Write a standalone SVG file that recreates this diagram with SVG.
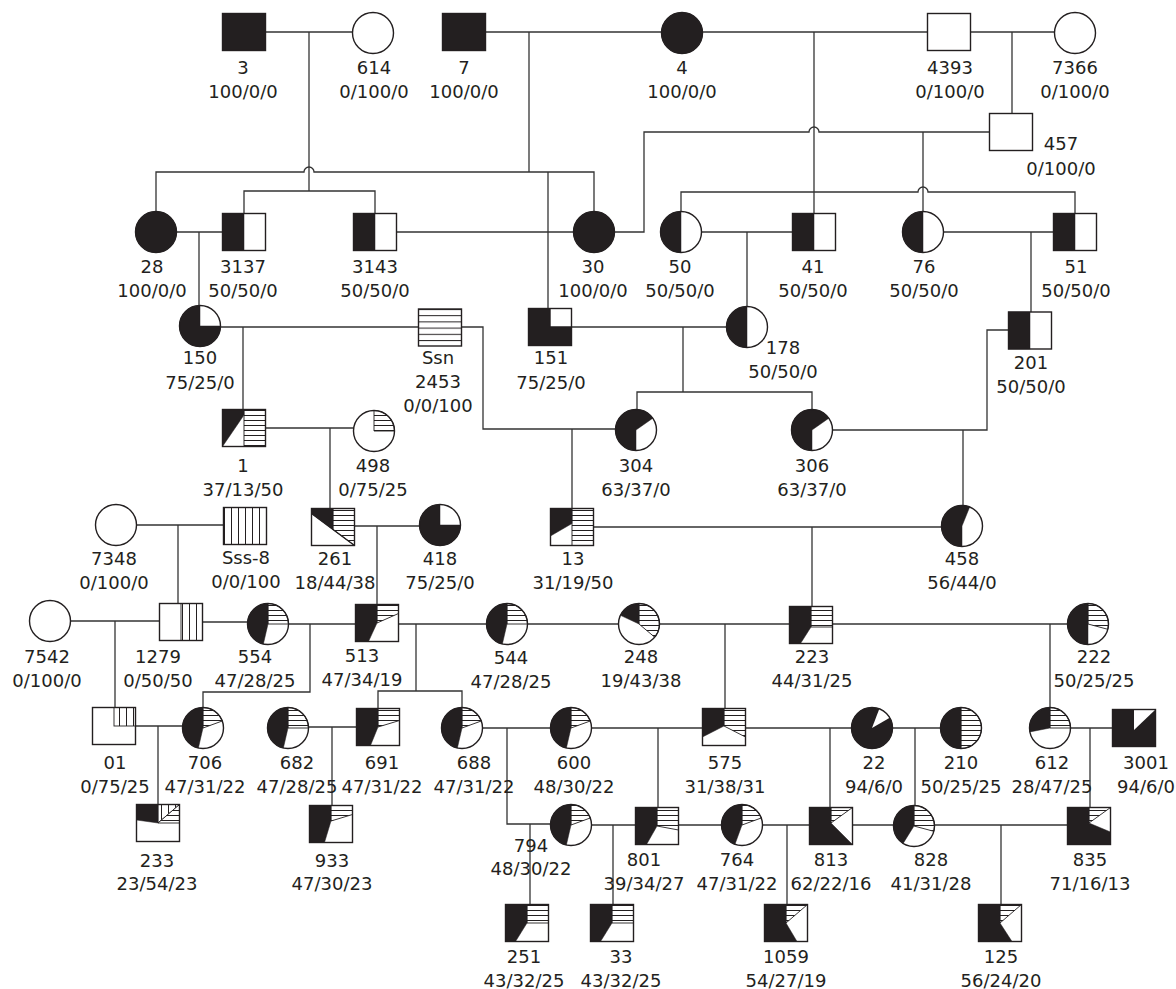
<svg xmlns="http://www.w3.org/2000/svg" width="1176" height="989" viewBox="0 0 1176 989">
<defs>
<pattern id="hs" patternUnits="userSpaceOnUse" width="10" height="5"><rect width="10" height="5" fill="#fff"/><path d="M0,0.5H10" stroke="#231f20" stroke-width="1"/></pattern>
<pattern id="hs2" patternUnits="userSpaceOnUse" x="0" y="309" width="10" height="6.2"><rect width="10" height="6.2" fill="#fff"/><path d="M0,0.5H10" stroke="#231f20" stroke-width="1"/></pattern>
<pattern id="vs" patternUnits="userSpaceOnUse" width="7" height="10"><rect width="7" height="10" fill="#fff"/><path d="M0.5,0V10" stroke="#231f20" stroke-width="1"/></pattern>
</defs>
<style>
.ln{fill:none;stroke:#333;stroke-width:1.3}
.o{fill:none;stroke:#231f20;stroke-width:1.4}
.w{fill:#fff}
.b{fill:#231f20;stroke:#231f20;stroke-width:0.5}
.h{fill:url(#hs);stroke:#231f20;stroke-width:0.9}
.h2{fill:url(#hs2)}
.v{fill:url(#vs);stroke:#231f20;stroke-width:0.9}
.t{font-family:"DejaVu Sans","Liberation Sans",sans-serif;font-size:18px;fill:#231f20;text-anchor:middle}
</style>
<rect width="1176" height="989" fill="#fff"/>
<g id="connectors">
<path class="ln" d="M265.5,32H352.5"/>
<path class="ln" d="M309,32V191"/>
<path class="ln" d="M244,213.5V191H375V213.5"/>
<path class="ln" d="M485.5,32H661.5"/>
<path class="ln" d="M529,32V172"/>
<path class="ln" d="M156,211.5V172H304A5,5 0 0 1 314,172H594V211.5"/>
<path class="ln" d="M548,172V308.5"/>
<path class="ln" d="M702.5,32H927.5"/>
<path class="ln" d="M814,32V213.5"/>
<path class="ln" d="M970.5,32H1054.5"/>
<path class="ln" d="M1012,32V113.5"/>
<path class="ln" d="M614.5,232H644V132H809A5,5 0 0 1 819,132H989.5"/>
<path class="ln" d="M923,132V211.5"/>
<path class="ln" d="M681,211.5V192H918A5,5 0 0 1 928,192H1075V213.5"/>
<path class="ln" d="M176.5,232H222.5"/>
<path class="ln" d="M199,232V305.5"/>
<path class="ln" d="M396.5,232H573.5"/>
<path class="ln" d="M701.5,232H792.5"/>
<path class="ln" d="M747,232V306.5"/>
<path class="ln" d="M943.5,232H1053.5"/>
<path class="ln" d="M1031,232V312"/>
<path class="ln" d="M220.5,327H418.5"/>
<path class="ln" d="M243,327V409.5"/>
<path class="ln" d="M461.5,327H483V429H615.5"/>
<path class="ln" d="M572,429V508.5"/>
<path class="ln" d="M571.5,327H726.5"/>
<path class="ln" d="M683,327V392"/>
<path class="ln" d="M637,409.5V392H812V409.5"/>
<path class="ln" d="M265.5,428H353.5"/>
<path class="ln" d="M330,428V508.5"/>
<path class="ln" d="M832.5,430H987V330H1008.5"/>
<path class="ln" d="M963,430V505.5"/>
<path class="ln" d="M136.5,525H223.5"/>
<path class="ln" d="M178,525V603.5"/>
<path class="ln" d="M354.5,526H419.5"/>
<path class="ln" d="M377,526V604.5"/>
<path class="ln" d="M593.5,527H941.5"/>
<path class="ln" d="M812,527V606.5"/>
<path class="ln" d="M70.5,621H159.5"/>
<path class="ln" d="M115,621V707.5"/>
<path class="ln" d="M202.5,622H247.5"/>
<path class="ln" d="M288.5,624H355.5"/>
<path class="ln" d="M310,624V692H203V707.5"/>
<path class="ln" d="M398.5,624H486.5"/>
<path class="ln" d="M416,624V691"/>
<path class="ln" d="M378,708.5V691H462V707.5"/>
<path class="ln" d="M527.5,624H618.5"/>
<path class="ln" d="M659.5,624H789.5"/>
<path class="ln" d="M725,624V708.5"/>
<path class="ln" d="M832.5,624H1067.5"/>
<path class="ln" d="M1050,624V707.5"/>
<path class="ln" d="M135.5,726H182.5"/>
<path class="ln" d="M158,726V804.5"/>
<path class="ln" d="M308.5,727H356.5"/>
<path class="ln" d="M332,727V805.5"/>
<path class="ln" d="M482.5,728H550.5"/>
<path class="ln" d="M507,728V824H550.5"/>
<path class="ln" d="M530,824V904.5"/>
<path class="ln" d="M591.5,728H702.5"/>
<path class="ln" d="M658,728V807.5"/>
<path class="ln" d="M745.5,728H851.5"/>
<path class="ln" d="M830,728V807.5"/>
<path class="ln" d="M892.5,728H940.5"/>
<path class="ln" d="M915,728V805.5"/>
<path class="ln" d="M1070.5,728H1112.5"/>
<path class="ln" d="M1090,728V807.5"/>
<path class="ln" d="M591.5,825H635.5"/>
<path class="ln" d="M613,825V904.5"/>
<path class="ln" d="M678.5,825H721.5"/>
<path class="ln" d="M762.5,825H809.5"/>
<path class="ln" d="M787,825V904.5"/>
<path class="ln" d="M852.5,825H893.5"/>
<path class="ln" d="M934.5,825H1067.5"/>
<path class="ln" d="M1001,825V904.5"/>
</g>

<g id="n3"><rect class="b" x="222.5" y="13.5" width="43" height="37"/><rect class="o" x="222.5" y="13.5" width="43" height="37"/><text class="t" x="243" y="74">3</text><text class="t" x="243" y="98">100/0/0</text></g>
<g id="n614"><circle class="w" cx="373" cy="33" r="20.5"/><circle class="o" cx="373" cy="33" r="20.5"/><text class="t" x="374" y="74">614</text><text class="t" x="374" y="98">0/100/0</text></g>
<g id="n7"><rect class="b" x="442.5" y="13.5" width="43" height="37"/><rect class="o" x="442.5" y="13.5" width="43" height="37"/><text class="t" x="464" y="74">7</text><text class="t" x="464" y="98">100/0/0</text></g>
<g id="n4"><circle class="b" cx="682" cy="33" r="20.5"/><circle class="o" cx="682" cy="33" r="20.5"/><text class="t" x="682" y="74">4</text><text class="t" x="682" y="98">100/0/0</text></g>
<g id="n4393"><rect class="w" x="927.5" y="13.5" width="43" height="37"/><rect class="o" x="927.5" y="13.5" width="43" height="37"/><text class="t" x="950" y="74">4393</text><text class="t" x="950" y="98">0/100/0</text></g>
<g id="n7366"><circle class="w" cx="1075" cy="33" r="20.5"/><circle class="o" cx="1075" cy="33" r="20.5"/><text class="t" x="1075" y="74">7366</text><text class="t" x="1075" y="98">0/100/0</text></g>
<g id="n457"><rect class="w" x="989.5" y="113.5" width="43" height="37"/><rect class="o" x="989.5" y="113.5" width="43" height="37"/><text class="t" x="1061" y="150">457</text><text class="t" x="1061" y="175">0/100/0</text></g>

<g id="n28"><circle class="b" cx="156" cy="232" r="20.5"/><circle class="o" cx="156" cy="232" r="20.5"/><text class="t" x="152" y="273">28</text><text class="t" x="152" y="297">100/0/0</text></g>
<g id="n3137"><rect class="w" x="222.5" y="213.5" width="43" height="37"/><rect class="b" x="222.5" y="213.5" width="21.5" height="37"/><rect class="o" x="222.5" y="213.5" width="43" height="37"/><text class="t" x="243" y="273">3137</text><text class="t" x="243" y="297">50/50/0</text></g>
<g id="n3143"><rect class="w" x="353.5" y="213.5" width="43" height="37"/><rect class="b" x="353.5" y="213.5" width="21.5" height="37"/><rect class="o" x="353.5" y="213.5" width="43" height="37"/><text class="t" x="375" y="273">3143</text><text class="t" x="375" y="297">50/50/0</text></g>
<g id="n30"><circle class="b" cx="594" cy="232" r="20.5"/><circle class="o" cx="594" cy="232" r="20.5"/><text class="t" x="593" y="273">30</text><text class="t" x="593" y="297">100/0/0</text></g>
<g id="n50"><circle class="w" cx="681" cy="232" r="20.5"/><path class="b" d="M681,211.5A20.5,20.5 0 0 0 681,252.5Z"/><circle class="o" cx="681" cy="232" r="20.5"/><text class="t" x="680" y="273">50</text><text class="t" x="680" y="297">50/50/0</text></g>
<g id="n41"><rect class="w" x="792.5" y="213.5" width="43" height="37"/><rect class="b" x="792.5" y="213.5" width="21.5" height="37"/><rect class="o" x="792.5" y="213.5" width="43" height="37"/><text class="t" x="813" y="273">41</text><text class="t" x="813" y="297">50/50/0</text></g>
<g id="n76"><circle class="w" cx="923" cy="232" r="20.5"/><path class="b" d="M923,211.5A20.5,20.5 0 0 0 923,252.5Z"/><circle class="o" cx="923" cy="232" r="20.5"/><text class="t" x="924" y="273">76</text><text class="t" x="924" y="297">50/50/0</text></g>
<g id="n51"><rect class="w" x="1053.5" y="213.5" width="43" height="37"/><rect class="b" x="1053.5" y="213.5" width="21.5" height="37"/><rect class="o" x="1053.5" y="213.5" width="43" height="37"/><text class="t" x="1076" y="273">51</text><text class="t" x="1076" y="297">50/50/0</text></g>

<g id="n150"><circle class="w" cx="200" cy="326" r="20.5"/><path class="b" d="M200,326L220.5,326A20.5,20.5 0 1 1 200,305.5Z"/><circle class="o" cx="200" cy="326" r="20.5"/><text class="t" x="200" y="364">150</text><text class="t" x="200" y="389">75/25/0</text></g>
<g id="nSsn"><rect class="h2" x="418.5" y="309" width="43" height="37"/><rect class="o" x="418.5" y="309" width="43" height="37"/><text class="t" x="438" y="364">Ssn</text><text class="t" x="438" y="388">2453</text><text class="t" x="438" y="412">0/0/100</text></g>
<g id="n151"><rect class="b" x="528.5" y="308.5" width="43" height="37"/><rect class="w" x="550" y="308.5" width="21.5" height="18.5"/><path class="o" d="M550,308.5V327H571.5"/><rect class="o" x="528.5" y="308.5" width="43" height="37"/><text class="t" x="551" y="364">151</text><text class="t" x="551" y="389">75/25/0</text></g>
<g id="n178"><circle class="w" cx="747" cy="327" r="20.5"/><path class="b" d="M747,306.5A20.5,20.5 0 0 0 747,347.5Z"/><circle class="o" cx="747" cy="327" r="20.5"/><text class="t" x="783" y="354">178</text><text class="t" x="783" y="378">50/50/0</text></g>
<g id="n201"><rect class="w" x="1008.5" y="312" width="43" height="37"/><rect class="b" x="1008.5" y="312" width="21.5" height="37"/><rect class="o" x="1008.5" y="312" width="43" height="37"/><text class="t" x="1031" y="369">201</text><text class="t" x="1031" y="393">50/50/0</text></g>

<g id="n1"><rect class="w" x="222.5" y="409.5" width="43" height="37"/><rect class="h" x="244" y="409.5" width="21.5" height="37"/><polygon class="b" points="222.5,409.5 244,409.5 244,415 222.5,446.5"/><rect class="o" x="222.5" y="409.5" width="43" height="37"/><text class="t" x="243" y="472">1</text><text class="t" x="243" y="496">37/13/50</text></g>
<g id="n498"><circle class="w" cx="374" cy="431" r="20.5"/><path class="h" d="M374,431L374,410.5A20.5,20.5 0 0 1 394.5,431Z"/><circle class="o" cx="374" cy="431" r="20.5"/><text class="t" x="373" y="472">498</text><text class="t" x="373" y="496">0/75/25</text></g>
<g id="n304"><circle class="w" cx="636" cy="430" r="20.5"/><path class="b" d="M636,430L636,450.5A20.5,20.5 0 1 1 652.79,418.24Z"/><circle class="o" cx="636" cy="430" r="20.5"/><text class="t" x="636" y="472">304</text><text class="t" x="636" y="496">63/37/0</text></g>
<g id="n306"><circle class="w" cx="812" cy="430" r="20.5"/><path class="b" d="M812,430L812,450.5A20.5,20.5 0 1 1 828.79,418.24Z"/><circle class="o" cx="812" cy="430" r="20.5"/><text class="t" x="812" y="472">306</text><text class="t" x="812" y="496">63/37/0</text></g>

<g id="n7348"><circle class="w" cx="116" cy="525" r="20.5"/><circle class="o" cx="116" cy="525" r="20.5"/><text class="t" x="114" y="565">7348</text><text class="t" x="114" y="589">0/100/0</text></g>
<g id="nSss-8"><rect class="v" x="223.5" y="507.5" width="43" height="37"/><rect class="o" x="223.5" y="507.5" width="43" height="37"/><text class="t" x="246" y="564">Sss-8</text><text class="t" x="246" y="588">0/0/100</text></g>
<g id="n261"><rect class="w" x="311.5" y="508.5" width="43" height="37"/><polygon class="h" points="333,508.5 354.5,508.5 354.5,545.5 333,529.5"/><polygon class="b" points="311.5,508.5 333,508.5 333,529.5 311.5,513.5"/><path class="o" d="M311.5,513.5L354.5,545.5"/><rect class="o" x="311.5" y="508.5" width="43" height="37"/><text class="t" x="335" y="565">261</text><text class="t" x="335" y="589">18/44/38</text></g>
<g id="n418"><circle class="w" cx="440" cy="525" r="20.5"/><path class="b" d="M440,525L460.5,525A20.5,20.5 0 1 1 440,504.5Z"/><circle class="o" cx="440" cy="525" r="20.5"/><text class="t" x="440" y="565">418</text><text class="t" x="440" y="589">75/25/0</text></g>
<g id="n13"><rect class="w" x="550.5" y="508.5" width="43" height="37"/><rect class="h" x="572" y="508.5" width="21.5" height="37"/><polygon class="b" points="550.5,508.5 572,508.5 572,523.5 550.5,536"/><rect class="o" x="550.5" y="508.5" width="43" height="37"/><text class="t" x="573" y="565">13</text><text class="t" x="573" y="589">31/19/50</text></g>
<g id="n458"><circle class="w" cx="962" cy="526" r="20.5"/><path class="b" d="M962,526L962,546.5A20.5,20.5 0 1 1 969.68,506.99Z"/><circle class="o" cx="962" cy="526" r="20.5"/><text class="t" x="962" y="565">458</text><text class="t" x="962" y="589">56/44/0</text></g>

<g id="n7542"><circle class="w" cx="50" cy="621" r="20.5"/><circle class="o" cx="50" cy="621" r="20.5"/><text class="t" x="47" y="663">7542</text><text class="t" x="47" y="687">0/100/0</text></g>
<g id="n1279"><rect class="w" x="159.5" y="603.5" width="43" height="37"/><rect class="v" x="181" y="603.5" width="21.5" height="37"/><rect class="o" x="159.5" y="603.5" width="43" height="37"/><text class="t" x="158" y="663">1279</text><text class="t" x="158" y="687">0/50/50</text></g>
<g id="n554"><circle class="w" cx="268" cy="624" r="20.5"/><path class="h" d="M268,624L268,603.5A20.5,20.5 0 0 1 288.5,624Z"/><path class="b" d="M268,624L263.39,643.97A20.5,20.5 0 0 1 268,603.5Z"/><circle class="o" cx="268" cy="624" r="20.5"/><text class="t" x="255" y="663">554</text><text class="t" x="255" y="687">47/28/25</text></g>
<g id="n513"><rect class="w" x="355.5" y="604.5" width="43" height="37"/><polygon class="h" points="377,604.5 398.5,604.5 398.5,613.5 377,623"/><polygon class="b" points="355.5,604.5 377,604.5 377,623 368.5,641.5 355.5,641.5"/><rect class="o" x="355.5" y="604.5" width="43" height="37"/><text class="t" x="362" y="662">513</text><text class="t" x="362" y="686">47/34/19</text></g>
<g id="n544"><circle class="w" cx="507" cy="624" r="20.5"/><path class="h" d="M507,624L507,603.5A20.5,20.5 0 0 1 527.5,624Z"/><path class="b" d="M507,624L502.39,643.97A20.5,20.5 0 0 1 507,603.5Z"/><circle class="o" cx="507" cy="624" r="20.5"/><text class="t" x="511" y="664">544</text><text class="t" x="511" y="688">47/28/25</text></g>
<g id="n248"><circle class="w" cx="639" cy="624" r="20.5"/><path class="h" d="M639,624L639,603.5A20.5,20.5 0 0 1 654.70,637.18Z"/><path class="b" d="M639,624L620.42,615.34A20.5,20.5 0 0 1 639,603.5Z"/><circle class="o" cx="639" cy="624" r="20.5"/><text class="t" x="641" y="663">248</text><text class="t" x="641" y="687">19/43/38</text></g>
<g id="n223"><rect class="w" x="789.5" y="606.5" width="43" height="37"/><rect class="h" x="811" y="606.5" width="21.5" height="20.5"/><polygon class="b" points="789.5,606.5 811,606.5 811,627 800.5,643.5 789.5,643.5"/><rect class="o" x="789.5" y="606.5" width="43" height="37"/><text class="t" x="812" y="663">223</text><text class="t" x="812" y="687">44/31/25</text></g>
<g id="n222"><circle class="w" cx="1088" cy="624" r="20.5"/><path class="h" d="M1088,624L1088,603.5A20.5,20.5 0 0 1 1107.80,629.31Z"/><path class="b" d="M1088,603.5A20.5,20.5 0 0 0 1088,644.5Z"/><circle class="o" cx="1088" cy="624" r="20.5"/><text class="t" x="1094" y="663">222</text><text class="t" x="1094" y="687">50/25/25</text></g>

<g id="n01"><rect class="w" x="92.5" y="707.5" width="43" height="37"/><rect class="v" x="114" y="707.5" width="21.5" height="18.5"/><rect class="o" x="92.5" y="707.5" width="43" height="37"/><text class="t" x="115" y="769">01</text><text class="t" x="115" y="793">0/75/25</text></g>
<g id="n706"><circle class="w" cx="203" cy="728" r="20.5"/><path class="h" d="M203,728L203,707.5A20.5,20.5 0 0 1 222.26,720.99Z"/><path class="b" d="M203,728L198.39,747.97A20.5,20.5 0 0 1 203,707.5Z"/><circle class="o" cx="203" cy="728" r="20.5"/><text class="t" x="205" y="769">706</text><text class="t" x="205" y="793">47/31/22</text></g>
<g id="n682"><circle class="w" cx="288" cy="728" r="20.5"/><path class="h" d="M288,728L288,707.5A20.5,20.5 0 0 1 308.5,728Z"/><path class="b" d="M288,728L283.39,747.97A20.5,20.5 0 0 1 288,707.5Z"/><circle class="o" cx="288" cy="728" r="20.5"/><text class="t" x="297" y="769">682</text><text class="t" x="297" y="793">47/28/25</text></g>
<g id="n691"><rect class="w" x="356.5" y="708.5" width="43" height="37"/><polygon class="h" points="378,708.5 399.5,708.5 399.5,720.5 378,727"/><polygon class="b" points="356.5,708.5 378,708.5 378,727 370.5,745.5 356.5,745.5"/><rect class="o" x="356.5" y="708.5" width="43" height="37"/><text class="t" x="382" y="769">691</text><text class="t" x="382" y="793">47/31/22</text></g>
<g id="n688"><circle class="w" cx="462" cy="728" r="20.5"/><path class="h" d="M462,728L462,707.5A20.5,20.5 0 0 1 481.26,720.99Z"/><path class="b" d="M462,728L457.39,747.97A20.5,20.5 0 0 1 462,707.5Z"/><circle class="o" cx="462" cy="728" r="20.5"/><text class="t" x="474" y="769">688</text><text class="t" x="474" y="793">47/31/22</text></g>
<g id="n600"><circle class="w" cx="571" cy="728" r="20.5"/><path class="h" d="M571,728L571,707.5A20.5,20.5 0 0 1 590.26,720.99Z"/><path class="b" d="M571,728L566.39,747.97A20.5,20.5 0 0 1 571,707.5Z"/><circle class="o" cx="571" cy="728" r="20.5"/><text class="t" x="574" y="769">600</text><text class="t" x="574" y="793">48/30/22</text></g>
<g id="n575"><rect class="w" x="702.5" y="708.5" width="43" height="37"/><polygon class="h" points="724,708.5 745.5,708.5 745.5,737 724,726"/><polygon class="b" points="702.5,708.5 724,708.5 724,726 702.5,737"/><rect class="o" x="702.5" y="708.5" width="43" height="37"/><text class="t" x="725" y="769">575</text><text class="t" x="725" y="793">31/38/31</text></g>
<g id="n22"><circle class="b" cx="872" cy="728" r="20.5"/><path class="w" d="M872,728L879.35,708.86A20.5,20.5 0 0 1 889.75,717.75Z"/><circle class="o" cx="872" cy="728" r="20.5"/><text class="t" x="874" y="769">22</text><text class="t" x="874" y="793">94/6/0</text></g>
<g id="n210"><circle class="w" cx="961" cy="728" r="20.5"/><path class="h" d="M961,707.5A20.5,20.5 0 0 1 961,748.5Z"/><path class="b" d="M961,707.5A20.5,20.5 0 0 0 961,748.5Z"/><circle class="o" cx="961" cy="728" r="20.5"/><text class="t" x="961" y="769">210</text><text class="t" x="961" y="793">50/25/25</text></g>
<g id="n612"><circle class="w" cx="1050" cy="728" r="20.5"/><path class="h" d="M1050,728L1050,707.5A20.5,20.5 0 0 1 1070.5,728Z"/><path class="b" d="M1050,728L1029.88,731.91A20.5,20.5 0 0 1 1050,707.5Z"/><circle class="o" cx="1050" cy="728" r="20.5"/><text class="t" x="1052" y="769">612</text><text class="t" x="1052" y="793">28/47/25</text></g>
<g id="n3001"><rect class="b" x="1112.5" y="709.5" width="43" height="37"/><polygon class="w" points="1134,709.5 1155.5,709.5 1134,730"/><rect class="o" x="1112.5" y="709.5" width="43" height="37"/><text class="t" x="1146" y="769">3001</text><text class="t" x="1146" y="793">94/6/0</text></g>

<g id="n233"><rect class="w" x="136.5" y="804.5" width="43" height="37"/><polygon class="v" points="158,804.5 179.5,804.5 158,823"/><polygon class="h" points="179.5,804.5 179.5,823 158,823"/><polygon class="b" points="136.5,804.5 158,804.5 158,823 136.5,820"/><rect class="o" x="136.5" y="804.5" width="43" height="37"/><text class="t" x="157" y="867">233</text><text class="t" x="157" y="890">23/54/23</text></g>
<g id="n933"><rect class="w" x="309.5" y="805.5" width="43" height="37"/><polygon class="h" points="331,805.5 352.5,805.5 352.5,814.5 331,821"/><polygon class="b" points="309.5,805.5 331,805.5 331,821 324.5,842.5 309.5,842.5"/><rect class="o" x="309.5" y="805.5" width="43" height="37"/><text class="t" x="332" y="867">933</text><text class="t" x="332" y="890">47/30/23</text></g>
<g id="n794"><circle class="w" cx="571" cy="825" r="20.5"/><path class="h" d="M571,825L571,804.5A20.5,20.5 0 0 1 590.26,817.99Z"/><path class="b" d="M571,825L566.39,844.97A20.5,20.5 0 0 1 571,804.5Z"/><circle class="o" cx="571" cy="825" r="20.5"/><text class="t" x="531" y="852">794</text><text class="t" x="531" y="875">48/30/22</text></g>
<g id="n801"><rect class="w" x="635.5" y="807.5" width="43" height="37"/><polygon class="h" points="657,807.5 678.5,807.5 678.5,830 657,826"/><polygon class="b" points="635.5,807.5 657,807.5 657,826 646.5,844.5 635.5,844.5"/><rect class="o" x="635.5" y="807.5" width="43" height="37"/><text class="t" x="644" y="866">801</text><text class="t" x="644" y="890">39/34/27</text></g>
<g id="n764"><circle class="w" cx="742" cy="825" r="20.5"/><path class="h" d="M742,825L742,804.5A20.5,20.5 0 0 1 761.26,817.99Z"/><path class="b" d="M742,825L734.99,844.26A20.5,20.5 0 0 1 742,804.5Z"/><circle class="o" cx="742" cy="825" r="20.5"/><text class="t" x="737" y="866">764</text><text class="t" x="737" y="890">47/31/22</text></g>
<g id="n813"><rect class="w" x="809.5" y="807.5" width="43" height="37"/><polygon class="h" points="831,807.5 852.5,807.5 831,823"/><polygon class="b" points="809.5,807.5 831,807.5 831,823 852.5,844.5 809.5,844.5"/><rect class="o" x="809.5" y="807.5" width="43" height="37"/><text class="t" x="831" y="866">813</text><text class="t" x="831" y="890">62/22/16</text></g>
<g id="n828"><circle class="w" cx="914" cy="826" r="20.5"/><path class="h" d="M914,826L914,805.5A20.5,20.5 0 0 1 933.80,831.31Z"/><path class="b" d="M914,826L903.14,843.38A20.5,20.5 0 0 1 914,805.5Z"/><circle class="o" cx="914" cy="826" r="20.5"/><text class="t" x="931" y="866">828</text><text class="t" x="931" y="890">41/31/28</text></g>
<g id="n835"><rect class="w" x="1067.5" y="807.5" width="43" height="37"/><polygon class="h" points="1089,807.5 1110.5,807.5 1089,823"/><polygon class="b" points="1067.5,807.5 1089,807.5 1089,823 1110.5,832 1110.5,844.5 1067.5,844.5"/><rect class="o" x="1067.5" y="807.5" width="43" height="37"/><text class="t" x="1090" y="866">835</text><text class="t" x="1090" y="890">71/16/13</text></g>

<g id="n251"><rect class="w" x="505.5" y="904.5" width="43" height="37"/><rect class="h" x="527" y="904.5" width="21.5" height="18.5"/><polygon class="b" points="505.5,904.5 527,904.5 527,923 515.5,941.5 505.5,941.5"/><rect class="o" x="505.5" y="904.5" width="43" height="37"/><text class="t" x="524" y="963">251</text><text class="t" x="524" y="987">43/32/25</text></g>
<g id="n33"><rect class="w" x="590.5" y="904.5" width="43" height="37"/><rect class="h" x="612" y="904.5" width="21.5" height="18.5"/><polygon class="b" points="590.5,904.5 612,904.5 612,923 600.5,941.5 590.5,941.5"/><rect class="o" x="590.5" y="904.5" width="43" height="37"/><text class="t" x="621" y="963">33</text><text class="t" x="621" y="987">43/32/25</text></g>
<g id="n1059"><rect class="w" x="764.5" y="904.5" width="43" height="37"/><polygon class="h" points="786,904.5 807.5,904.5 786,923"/><polygon class="b" points="764.5,904.5 786,904.5 786,923 797,941.5 764.5,941.5"/><rect class="o" x="764.5" y="904.5" width="43" height="37"/><text class="t" x="786" y="963">1059</text><text class="t" x="786" y="987">54/27/19</text></g>
<g id="n125"><rect class="w" x="978.5" y="904.5" width="43" height="37"/><polygon class="h" points="1000,904.5 1021.5,904.5 1000,923"/><polygon class="b" points="978.5,904.5 1000,904.5 1000,923 1012,941.5 978.5,941.5"/><rect class="o" x="978.5" y="904.5" width="43" height="37"/><text class="t" x="1001" y="963">125</text><text class="t" x="1001" y="987">56/24/20</text></g>
</svg>
